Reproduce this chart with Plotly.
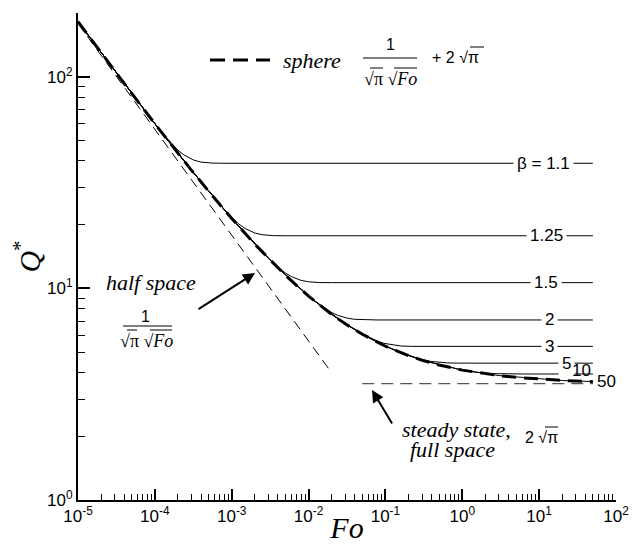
import math
import plotly.graph_objects as go

# ---------------- data ----------------
# sphere curve (thick dashed)
fo_sphere = [1e-5, 2e-5, 3e-5, 5e-5, 1e-4, 2e-4, 3e-4, 5e-4, 1e-3, 2e-3, 3e-3, 5e-3,
             1e-2, 2e-2, 3e-2, 5e-2, 0.1, 0.2, 0.3, 0.5, 1, 2, 3, 5, 10, 20, 50]
q_sphere = [181.96, 129.70, 106.55, 83.33, 59.96, 43.44, 36.12, 28.78, 21.39, 16.16, 13.85, 11.52,
            9.187, 7.534, 6.802, 6.068, 5.329, 4.806, 4.575, 4.343, 4.109, 3.944, 3.871, 3.797, 3.724, 3.671, 3.625]

# half space asymptote (thin dashed)
fo_half = [1e-5, 1.9e-2]
q_half = [178.4, 4.09]

# steady state, full space (dashed)
fo_steady = [0.05, 50]
q_steady = [3.545, 3.545]

# finite domains, beta = outer/inner radius
fo_b1_1 = [1e-5, 3e-5, 7.96e-5, 1.19e-4, 1.59e-4, 1.99e-4, 2.39e-4, 3.18e-4, 3.98e-4, 5.57e-4, 7.96e-4, 50]
q_b1_1 = [182.0, 106.6, 66.8, 55.3, 48.9, 45.0, 42.7, 40.4, 39.5, 39.07, 39.0, 39.0]

fo_b1_25 = [1e-5, 5e-5, 1e-4, 2.485e-4, 4.97e-4, 7.46e-4, 9.94e-4, 1.24e-3, 1.49e-3, 1.99e-3, 2.49e-3, 3.48e-3, 4.97e-3, 50]
q_b1_25 = [182.0, 83.3, 60.0, 39.3, 28.8, 24.25, 21.68, 20.13, 19.19, 18.27, 17.93, 17.75, 17.72, 17.72]

fo_b1_5 = [1e-5, 3e-5, 1e-4, 3e-4, 9.95e-4, 1.99e-3, 2.98e-3, 3.98e-3, 4.97e-3, 5.97e-3, 7.96e-3, 9.95e-3, 1.39e-2, 1.99e-2, 50]
q_b1_5 = [182.0, 106.6, 60.0, 36.1, 21.43, 16.19, 13.90, 12.61, 11.84, 11.37, 10.91, 10.74, 10.65, 10.64, 10.64]

fo_b2 = [1e-5, 3e-5, 1e-4, 3e-4, 1e-3, 3.98e-3, 7.96e-3, 1.19e-2, 1.59e-2, 1.99e-2, 2.39e-2, 3.18e-2, 3.98e-2, 5.57e-2, 7.96e-2, 50]
q_b2 = [182.0, 106.6, 60.0, 36.1, 21.39, 12.49, 9.87, 8.72, 8.08, 7.69, 7.46, 7.23, 7.14, 7.10, 7.09, 7.09]

fo_b3 = [1e-5, 3e-5, 1e-4, 3e-4, 1e-3, 3e-3, 1e-2, 1.59e-2, 3.18e-2, 4.77e-2, 6.37e-2, 7.96e-2, 9.55e-2, 0.127, 0.159, 0.223, 0.318, 50]
q_b3 = [182.0, 106.6, 60.0, 36.1, 21.39, 13.85, 9.19, 8.02, 6.71, 6.13, 5.81, 5.62, 5.50, 5.39, 5.34, 5.32, 5.32, 5.32]

fo_b5 = [1e-5, 3e-5, 1e-4, 3e-4, 1e-3, 3e-3, 1e-2, 2e-2, 3e-2, 6.37e-2, 0.127, 0.191, 0.255, 0.318, 0.382, 0.509, 0.637, 0.891, 1.273, 50]
q_b5 = [182.0, 106.6, 60.0, 36.1, 21.39, 13.85, 9.19, 7.53, 6.80, 5.78, 5.13, 4.84, 4.68, 4.58, 4.52, 4.465, 4.444, 4.433, 4.431, 4.431]

fo_b10 = [1e-5, 3e-5, 1e-4, 3e-4, 1e-3, 3e-3, 1e-2, 2e-2, 5e-2, 0.1, 0.2, 0.322, 0.644, 0.966, 1.288, 1.61, 1.932, 2.576, 3.22, 4.51, 6.44, 50]
q_b10 = [182.0, 106.6, 60.0, 36.1, 21.39, 13.85, 9.19, 7.53, 6.07, 5.33, 4.81, 4.539, 4.248, 4.120, 4.049, 4.006, 3.980, 3.954, 3.945, 3.940, 3.939, 3.939]

fo_b50 = [1e-5, 3e-5, 1e-4, 3e-4, 1e-3, 3e-3, 1e-2, 3e-2, 0.1, 0.3, 1, 3, 10, 20, 30, 50]
q_b50 = [182.0, 106.6, 60.0, 36.1, 21.39, 13.85, 9.19, 6.80, 5.33, 4.575, 4.109, 3.871, 3.724, 3.671, 3.648, 3.629]

beta_labels = ["β = 1.1", "1.25", "1.5", "2", "3", "5", "10", "50"]
beta_fo = [fo_b1_1, fo_b1_25, fo_b1_5, fo_b2, fo_b3, fo_b5, fo_b10, fo_b50]
beta_q = [q_b1_1, q_b1_25, q_b1_5, q_b2, q_b3, q_b5, q_b10, q_b50]

x_tick_vals = [1e-5, 1e-4, 1e-3, 1e-2, 1e-1, 1e0, 1e1, 1e2]
x_tick_text = ["10<sup>-5</sup>", "10<sup>-4</sup>", "10<sup>-3</sup>", "10<sup>-2</sup>",
               "10<sup>-1</sup>", "10<sup>0</sup>", "10<sup>1</sup>", "10<sup>2</sup>"]
y_tick_vals = [1, 10, 100]
y_tick_text = ["10<sup>0</sup>", "10<sup>1</sup>", "10<sup>2</sup>"]

# ---------------- layout helpers ----------------
# The page body has an 8px default margin, so the figure is 16px smaller than the window.
OFF = 8
W, H = 640 - 2 * OFF, 552 - 2 * OFF
PX0, PX1, PY0, PY1 = 78, 616, 13, 500       # plot area in window pixels
L, T = PX0 - OFF, PY0 - OFF
R, B = W - (PX1 - OFF), H - (PY1 - OFF)
PW, PH = PX1 - PX0, PY1 - PY0


def px(X):
    return (X - PX0) / PW


def py(Y):
    return (PY1 - Y) / PH


SANS = "Liberation Sans, Arial, Helvetica, sans-serif"
SERIF = "Liberation Serif, Times New Roman, serif"

fig = go.Figure()

for fo, q in zip(beta_fo, beta_q):
    fig.add_trace(go.Scatter(x=fo, y=q, mode="lines",
                             line=dict(color="black", width=1), hoverinfo="skip"))

fig.add_trace(go.Scatter(x=fo_half, y=q_half, mode="lines",
                         line=dict(color="black", width=1, dash="10px,6px"), hoverinfo="skip"))
fig.add_trace(go.Scatter(x=fo_steady, y=q_steady, mode="lines",
                         line=dict(color="#555555", width=1.3, dash="12px,7px"), hoverinfo="skip"))
fig.add_trace(go.Scatter(x=fo_sphere, y=q_sphere, mode="lines", name="sphere",
                         line=dict(color="black", width=3, dash="14px,8px"), hoverinfo="skip"))

annotations = []
shapes = []

# curve labels
label_x = [543, 546, 546, 549, 549, 566, 581, 606]
label_bg = [True, True, True, True, True, True, False, False]
label_shift = [0, 0, 0, 0, 0, 0, 3, 0]
for lab, q, lx, bg, ys in zip(beta_labels, beta_q, label_x, label_bg, label_shift):
    annotations.append(dict(
        x=px(lx), xref="paper", y=math.log10(q[-1]), yref="y",
        text=lab, showarrow=False, xanchor="center", yanchor="middle",
        yshift=ys, font=dict(family=SANS, size=17, color="black"),
        bgcolor="white" if bg else "rgba(0,0,0,0)", borderpad=3))


def text(X, Y, t, family, size, anchor="center"):
    annotations.append(dict(x=px(X), y=py(Y), xref="paper", yref="paper", text=t,
                            showarrow=False, xanchor=anchor, yanchor="middle",
                            font=dict(family=family, size=size, color="black")))


def hline(x0, x1, Y, width=1, dash=None):
    shapes.append(dict(type="line", xref="paper", yref="paper",
                       x0=px(x0), x1=px(x1), y0=py(Y), y1=py(Y),
                       line=dict(color="black", width=width, dash=dash)))


# key at top
hline(210, 270, 60, width=3, dash="15px,8px")
text(312, 60, "<i>sphere</i>", SERIF, 22)
text(390, 45, "1", SANS, 16)
hline(363, 417, 58)
text(390, 79, "√π √<i>Fo</i>", SERIF, 18)
hline(370, 383, 68)
hline(394, 417, 68)
text(455, 58, "+ 2 √π", SANS, 16)
hline(470, 484, 47)

# half space
text(151, 282, "<i>half space</i>", SERIF, 22)
text(145, 317, "1", SANS, 16)
hline(123, 172, 326)
text(146, 341, "√π √<i>Fo</i>", SERIF, 18)
hline(127, 137, 330)
hline(150, 172, 330)
annotations.append(dict(x=px(255), y=py(273), xref="paper", yref="paper", text="",
                        showarrow=True, ax=-58, ay=37, arrowhead=2, arrowsize=1.2,
                        arrowwidth=2, arrowcolor="black"))

# steady state
text(456, 429, "<i>steady state,</i>", SERIF, 22)
text(452, 449, "<i>full space</i>", SERIF, 22)
text(541, 437, "2 √π", SANS, 16)
hline(545, 558, 427)
annotations.append(dict(x=px(372), y=py(390), xref="paper", yref="paper", text="",
                        showarrow=True, ax=21, ay=35, arrowhead=2, arrowsize=1.2,
                        arrowwidth=2, arrowcolor="black"))

x_minor = [m * 10.0 ** e for e in range(-5, 2) for m in range(2, 10)]
y_minor = [m * 10.0 ** e for e in range(0, 2) for m in range(2, 10)]

fig.update_layout(
    width=W, height=H,
    margin=dict(l=L, r=R, t=T, b=B),
    paper_bgcolor="white", plot_bgcolor="white",
    showlegend=False,
    annotations=annotations, shapes=shapes,
    xaxis=dict(type="log", range=[-5, 2], showline=True, linewidth=2, linecolor="black",
               ticks="inside", ticklen=11, tickwidth=2, tickcolor="black",
               tickvals=x_tick_vals, ticktext=x_tick_text,
               tickfont=dict(family=SANS, size=17, color="black"),
               showgrid=False, zeroline=False, automargin=False,
               minor=dict(ticks="inside", ticklen=6, tickwidth=1, tickcolor="black",
                          tickvals=x_minor, showgrid=False),
               title=dict(text="<i>Fo</i>", font=dict(family=SERIF, size=30, color="black"),
                          standoff=4)),
    yaxis=dict(type="log", range=[0, math.log10(200)], showline=True, linewidth=2, linecolor="black",
               ticks="inside", ticklen=12, tickwidth=2, tickcolor="black",
               tickvals=y_tick_vals, ticktext=y_tick_text,
               tickfont=dict(family=SANS, size=17, color="black"),
               showgrid=False, zeroline=False, automargin=False,
               minor=dict(ticks="inside", ticklen=7, tickwidth=1, tickcolor="black",
                          tickvals=y_minor, showgrid=False),
               title=dict(text="<i>Q</i><sup>*</sup>", font=dict(family=SERIF, size=30, color="black"),
                          standoff=5)),
)

fig.write_html("out.html")
